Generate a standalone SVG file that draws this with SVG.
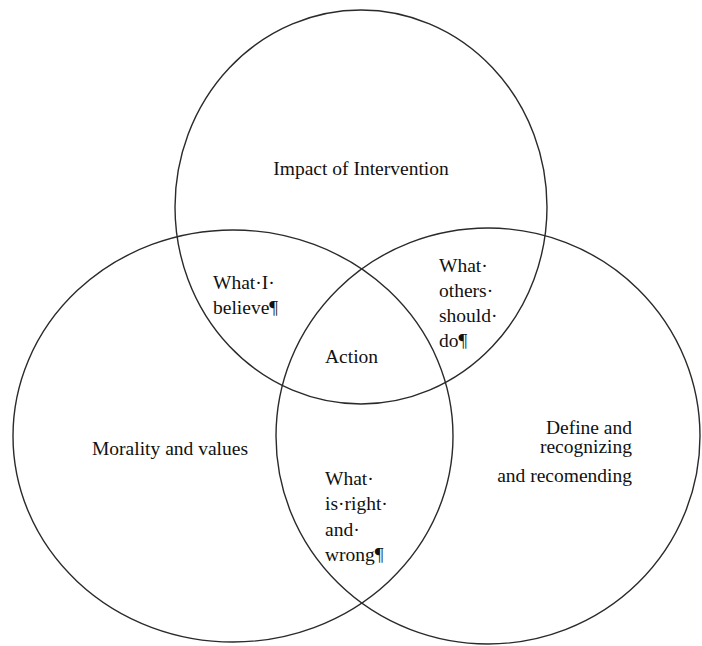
<svg xmlns="http://www.w3.org/2000/svg" width="702" height="646" viewBox="0 0 702 646">
<style>
.c{fill:none;stroke:#2a2a2a;stroke-width:1.4}
.t{font-family:"Liberation Serif","Times New Roman",serif;font-size:19.5px;fill:#111}
</style>
<rect width="702" height="646" fill="#fff"/>
<g id="circle-top"><ellipse class="c" cx="361" cy="207" rx="186" ry="197"/><text class="t" x="361" y="175" text-anchor="middle">Impact of Intervention</text></g>
<g id="circle-left"><ellipse class="c" cx="233" cy="436" rx="220" ry="206"/><text class="t" x="170" y="455" text-anchor="middle">Morality and values</text></g>
<g id="circle-right"><ellipse class="c" cx="488" cy="436" rx="212" ry="208"/><text class="t" text-anchor="end"><tspan x="632" y="434">Define and</tspan><tspan x="632" y="453">recognizing</tspan><tspan x="632" y="482">and recomending</tspan></text></g>
<g id="overlap-top-left"><text class="t"><tspan x="213" y="289">What·I·</tspan><tspan x="213" y="314">believe¶</tspan></text></g>
<g id="overlap-top-right"><text class="t"><tspan x="439" y="272">What·</tspan><tspan x="439" y="297">others·</tspan><tspan x="439" y="322">should·</tspan><tspan x="439" y="347">do¶</tspan></text></g>
<g id="overlap-center"><text class="t" x="325" y="363">Action</text></g>
<g id="overlap-left-right"><text class="t"><tspan x="325" y="485">What·</tspan><tspan x="325" y="510">is·right·</tspan><tspan x="325" y="536">and·</tspan><tspan x="325" y="561">wrong¶</tspan></text></g>
<g id="connectors"></g>
</svg>
